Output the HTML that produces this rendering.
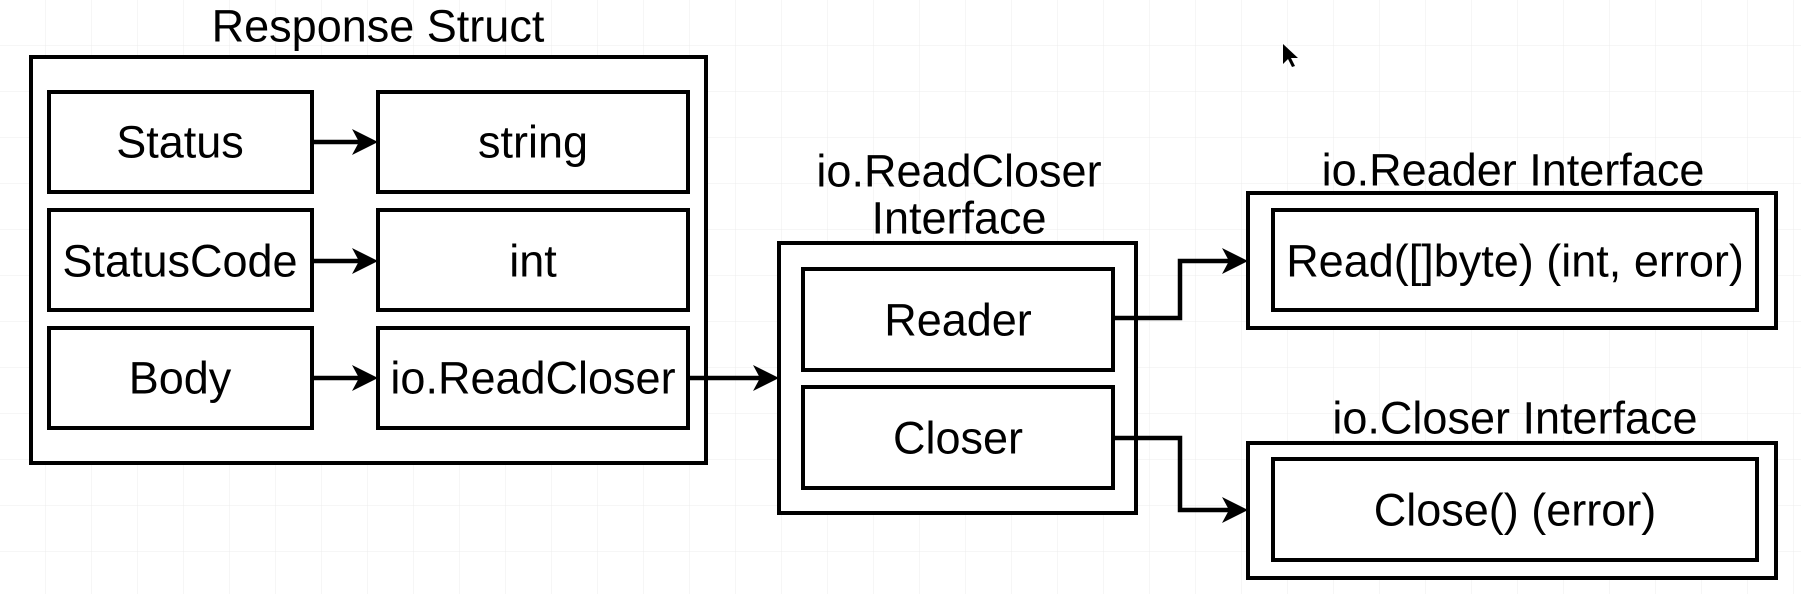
<!DOCTYPE html>
<html><head><meta charset="utf-8"><style>
html,body{margin:0;padding:0;background:#fff;}
svg{display:block;}
text{font-family:"Liberation Sans",Arial,sans-serif;font-size:45px;fill:#000;text-anchor:middle;dominant-baseline:central;}
</style></head><body>
<svg width="1801" height="594" viewBox="0 0 1801 594" xmlns="http://www.w3.org/2000/svg">
<defs>
<pattern id="g" width="46" height="46" patternUnits="userSpaceOnUse">
<path d="M46 0V46M0 46H46" stroke="#ececec" stroke-width="1" fill="none"/>
</pattern>
</defs>
<rect width="1801" height="594" fill="url(#g)"/>
<g fill="#fff" stroke="#000" stroke-width="4">
<rect x="31" y="57" width="675" height="406"/>
<rect x="49" y="92" width="263" height="100"/>
<rect x="378" y="92" width="310" height="100"/>
<rect x="49" y="210" width="263" height="100"/>
<rect x="378" y="210" width="310" height="100"/>
<rect x="49" y="328" width="263" height="100"/>
<rect x="378" y="328" width="310" height="100"/>
<rect x="779" y="243" width="357" height="270"/>
<rect x="803" y="269" width="310" height="101"/>
<rect x="803" y="387" width="310" height="101"/>
<rect x="1248" y="193" width="528" height="135"/>
<rect x="1273" y="210" width="484" height="100"/>
<rect x="1248" y="443" width="528" height="135"/>
<rect x="1273" y="459" width="484" height="101"/>
</g>
<g fill="none" stroke="#000" stroke-width="4.5">
<path d="M312 142H360"/><path d="M312 261H360"/><path d="M312 378H360"/>
<path d="M688 378H761"/>
<path d="M1113 318H1180V261H1230"/>
<path d="M1113 438H1180V510H1230"/>
</g>
<g fill="#000">
<path d="M378 142l-26 -13l7 13l-7 13z"/>
<path d="M378 261l-26 -13l7 13l-7 13z"/>
<path d="M378 378l-26 -13l7 13l-7 13z"/>
<path d="M779 378l-26 -13l7 13l-7 13z"/>
<path d="M1248 261l-26 -13l7 13l-7 13z"/>
<path d="M1248 510l-26 -13l7 13l-7 13z"/>
</g>
<text x="378" y="26">Response Struct</text>
<text x="180" y="142">Status</text>
<text x="533" y="142">string</text>
<text x="180" y="261">StatusCode</text>
<text x="533" y="261">int</text>
<text x="180" y="378">Body</text>
<text x="533" y="378">io.ReadCloser</text>
<text x="959" y="171">io.ReadCloser</text>
<text x="959" y="218">Interface</text>
<text x="958" y="320">Reader</text>
<text x="958" y="438">Closer</text>
<text x="1513" y="170">io.Reader Interface</text>
<text x="1515" y="261">Read([]byte) (int, error)</text>
<text x="1515" y="418">io.Closer Interface</text>
<text x="1515" y="510">Close() (error)</text>
<path d="M1283 44v20l5-5 4 8 3-1-4-8h7z" fill="#000"/>
</svg>
</body></html>
